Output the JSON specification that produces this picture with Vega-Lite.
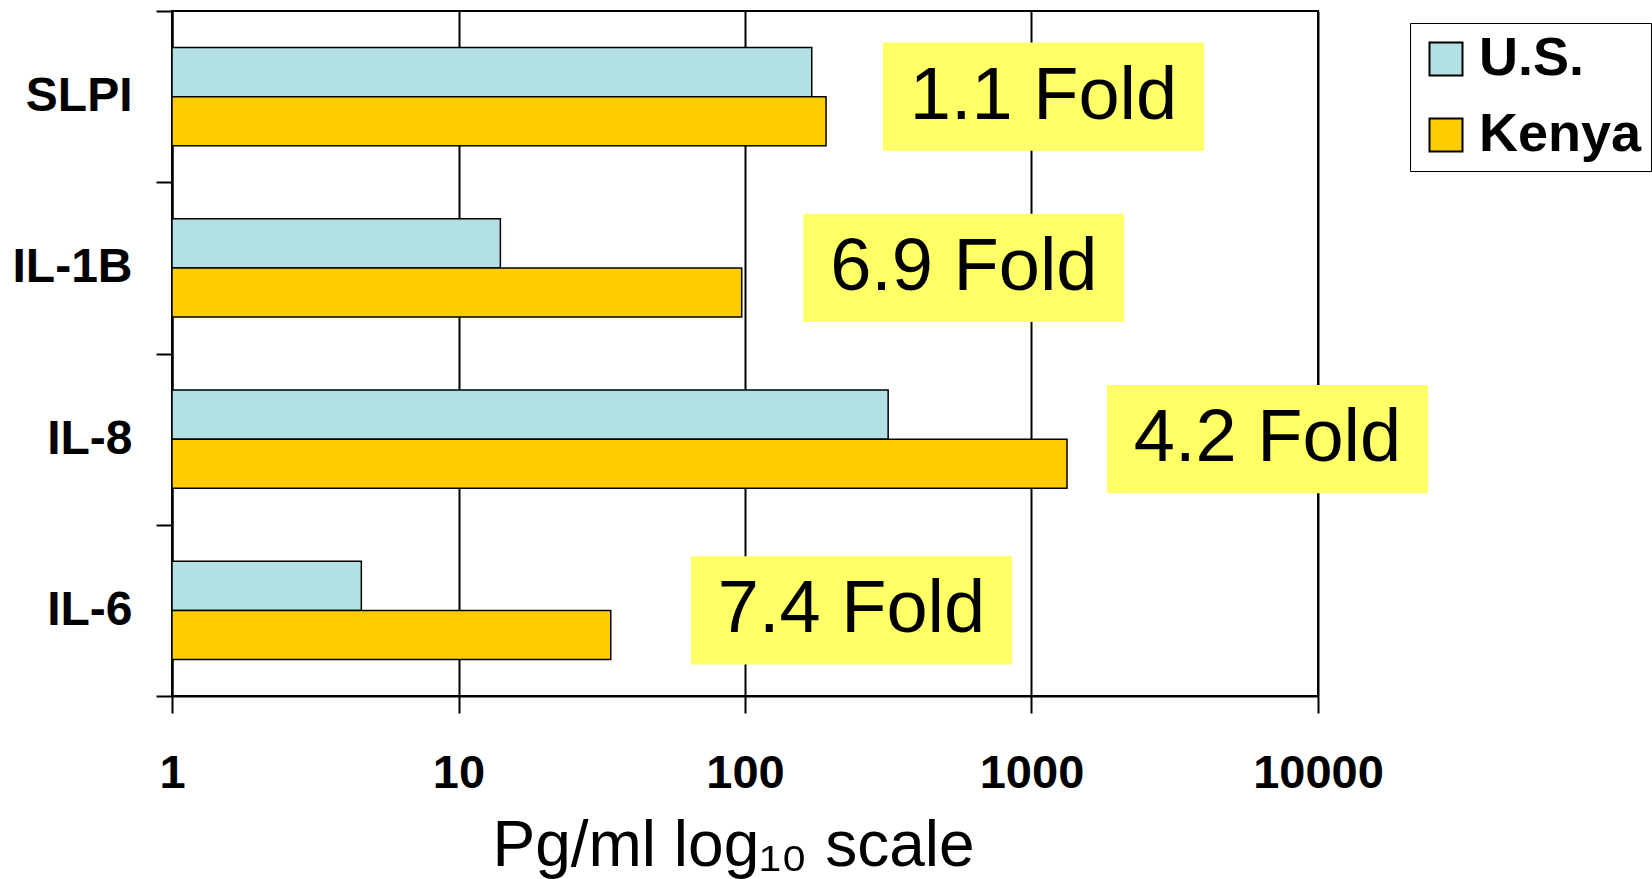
{
  "$schema": "https://vega.github.io/schema/vega-lite/v6.json",
  "autosize": {"type": "none"},
  "padding": {"left": 172, "top": 11, "right": 334, "bottom": 183},
  "width": 1146,
  "height": 685,
  "background": "white",
  "config": {
    "view": {"stroke": "black", "strokeWidth": 2},
    "font": "Liberation Sans"
  },
  "datasets": {
    "levels": [
      {"cytokine": "SLPI", "country": "U.S.", "value": 171},
      {"cytokine": "SLPI", "country": "Kenya", "value": 191.8},
      {"cytokine": "IL-1B", "country": "U.S.", "value": 14.0},
      {"cytokine": "IL-1B", "country": "Kenya", "value": 97.4},
      {"cytokine": "IL-8", "country": "U.S.", "value": 316},
      {"cytokine": "IL-8", "country": "Kenya", "value": 1330},
      {"cytokine": "IL-6", "country": "U.S.", "value": 4.58},
      {"cytokine": "IL-6", "country": "Kenya", "value": 34.0}
    ],
    "folds": [
      {"cytokine": "SLPI", "label": "1.1 Fold", "box_from": 303, "box_to": 4000},
      {"cytokine": "IL-1B", "label": "6.9 Fold", "box_from": 159.8, "box_to": 2103},
      {"cytokine": "IL-8", "label": "4.2 Fold", "box_from": 1834, "box_to": 24200},
      {"cytokine": "IL-6", "label": "7.4 Fold", "box_from": 64.8, "box_to": 855}
    ]
  },
  "layer": [
    {
      "data": {"name": "levels"},
      "mark": {"type": "bar", "stroke": "black", "strokeWidth": 1.5},
      "encoding": {
        "y": {
          "field": "cytokine", "type": "nominal",
          "sort": ["SLPI", "IL-1B", "IL-8", "IL-6"],
          "scale": {"paddingInner": 0, "paddingOuter": 0},
          "axis": {
            "title": null,
            "tickBand": "extent",
            "domainColor": "black", "domainWidth": 2,
            "tickColor": "black", "tickWidth": 2, "tickSize": 16,
            "labelFont": "Liberation Sans", "labelFontSize": 48, "labelFontWeight": "bold",
            "labelColor": "black", "labelPadding": 24, "grid": false
          }
        },
        "yOffset": {
          "field": "country", "type": "nominal",
          "sort": ["U.S.", "Kenya"],
          "scale": {"paddingInner": 0, "paddingOuter": 0.743}
        },
        "x": {
          "field": "value", "type": "quantitative",
          "scale": {"type": "log", "domain": [1, 10000], "nice": false},
          "axis": {
            "values": [1, 10, 100, 1000, 10000],
            "format": "d",
            "title": "Pg/ml log₁₀ scale",
            "titleFont": "Liberation Sans", "titleFontSize": 64, "titleFontWeight": "normal",
            "titleColor": "black",
            "titleX": 561, "titleY": 169, "titleAlign": "center", "titleBaseline": "alphabetic",
            "grid": true, "gridColor": "black", "gridWidth": 2, "gridOpacity": 1,
            "domainColor": "black", "domainWidth": 2,
            "tickColor": "black", "tickWidth": 2, "tickSize": 17,
            "labelFont": "Liberation Sans", "labelFontSize": 47, "labelFontWeight": "bold",
            "labelColor": "black", "labelPadding": 37, "labelFlush": false
          }
        },
        "x2": {"datum": 1},
        "fill": {
          "field": "country", "type": "nominal",
          "sort": ["U.S.", "Kenya"],
          "scale": {"domain": ["U.S.", "Kenya"], "range": ["#B3E0E2", "#FFCC00"]},
          "legend": {
            "title": null,
            "orient": "none",
            "legendX": 1238,
            "legendY": 12,
            "strokeColor": "black",
            "fillColor": "white",
            "padding": 9,
            "symbolType": "square",
            "symbolSize": 1089,
            "symbolStrokeColor": "black",
            "symbolStrokeWidth": 2,
            "symbolOpacity": 1,
            "labelFont": "Liberation Sans",
            "labelFontSize": 54,
            "labelFontWeight": "bold",
            "labelColor": "black",
            "labelOffset": 6,
            "rowPadding": 22,
            "labelLimit": 400
          }
        }
      }
    },
    {
      "data": {"name": "folds"},
      "mark": {"type": "bar", "fill": "#FFFF66", "height": {"band": 0.632}},
      "encoding": {
        "y": {"field": "cytokine", "type": "nominal", "sort": ["SLPI", "IL-1B", "IL-8", "IL-6"]},
        "x": {"field": "box_from", "type": "quantitative"},
        "x2": {"field": "box_to"}
      }
    },
    {
      "data": {"name": "folds"},
      "mark": {
        "type": "text", "font": "Liberation Sans", "fontSize": 74,
        "align": "center", "baseline": "middle", "dx": 160.5, "color": "black"
      },
      "encoding": {
        "y": {"field": "cytokine", "type": "nominal", "sort": ["SLPI", "IL-1B", "IL-8", "IL-6"]},
        "x": {"field": "box_from", "type": "quantitative"},
        "text": {"field": "label"}
      }
    }
  ]
}
